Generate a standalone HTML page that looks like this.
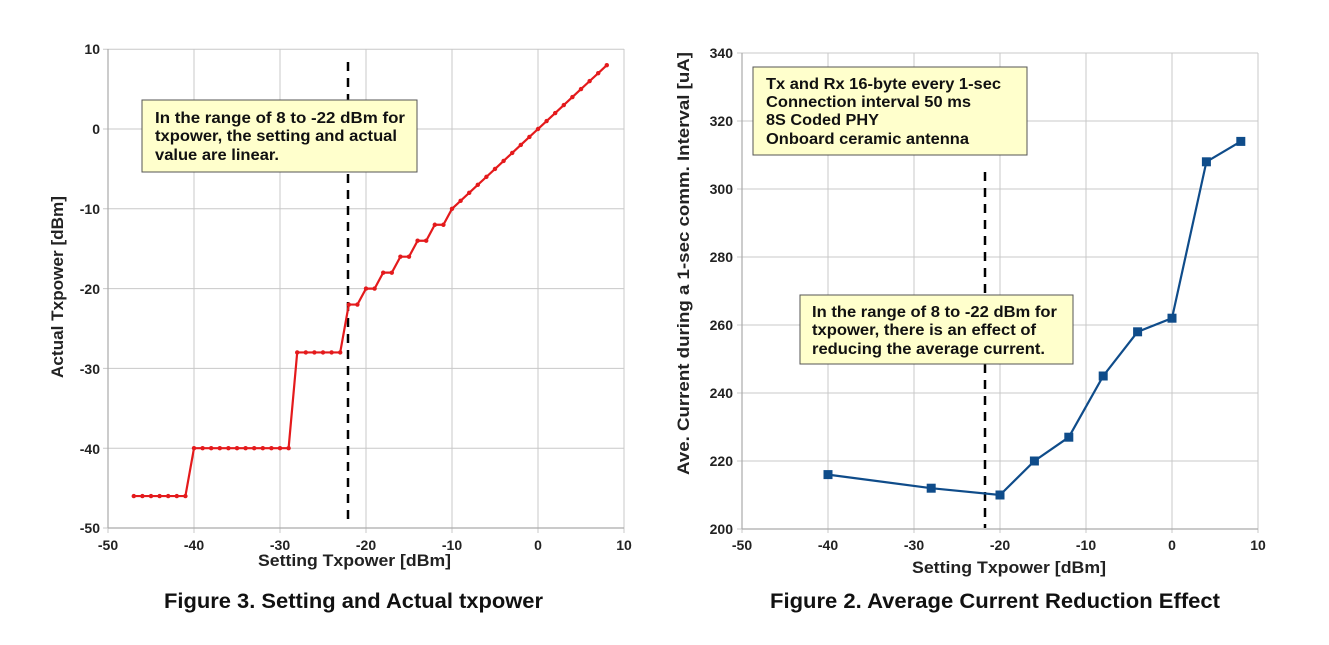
<!DOCTYPE html>
<html><head><meta charset="utf-8"><style>
body{margin:0;background:#fff;}
svg{display:block;font-family:"Liberation Sans",Arial,sans-serif;}
.t{font-size:14px;font-weight:bold;fill:#222;}
.ax{font-size:17px;font-weight:bold;fill:#222;}
.cap{font-size:21px;font-weight:bold;fill:#111;}
.bx{font-size:16px;font-weight:bold;fill:#111;}
</style></head><body>
<svg id="s" width="1329" height="645" xmlns="http://www.w3.org/2000/svg">
<g id="g1"></g>
<g class="t" text-anchor="end">
<text x="100" y="54">10</text><text x="100" y="134">0</text><text x="100" y="214">-10</text>
<text x="100" y="294">-20</text><text x="100" y="374">-30</text><text x="100" y="454">-40</text><text x="100" y="533">-50</text>
</g>
<g class="t" text-anchor="middle">
<text x="108" y="550">-50</text><text x="194" y="550">-40</text><text x="280" y="550">-30</text><text x="366" y="550">-20</text>
<text x="452" y="550">-10</text><text x="538" y="550">0</text><text x="624" y="550">10</text>
</g>
<text class="ax" x="258" y="566" textLength="193" lengthAdjust="spacingAndGlyphs">Setting Txpower [dBm]</text>
<text class="ax" transform="translate(63,378) rotate(-90)" textLength="182" lengthAdjust="spacingAndGlyphs">Actual Txpower [dBm]</text>
<rect x="142" y="100" width="275" height="72" fill="#ffffcc" stroke="#555" stroke-width="1"/>
<g class="bx"><text x="155" y="123" textLength="250" lengthAdjust="spacingAndGlyphs">In the range of  8 to -22 dBm for</text><text x="155" y="141" textLength="242" lengthAdjust="spacingAndGlyphs">txpower, the setting and actual</text><text x="155" y="160" textLength="124" lengthAdjust="spacingAndGlyphs">value are linear.</text></g>
<g class="t" text-anchor="end">
<text x="733" y="58">340</text><text x="733" y="126">320</text><text x="733" y="194">300</text><text x="733" y="262">280</text>
<text x="733" y="330">260</text><text x="733" y="398">240</text><text x="733" y="466">220</text><text x="733" y="534">200</text>
</g>
<g class="t" text-anchor="middle">
<text x="742" y="550">-50</text><text x="828" y="550">-40</text><text x="914" y="550">-30</text><text x="1000" y="550">-20</text>
<text x="1086" y="550">-10</text><text x="1172" y="550">0</text><text x="1258" y="550">10</text>
</g>
<text class="ax" x="912" y="573" textLength="194" lengthAdjust="spacingAndGlyphs">Setting Txpower [dBm]</text>
<text class="ax" transform="translate(689,475) rotate(-90)" textLength="423" lengthAdjust="spacingAndGlyphs">Ave. Current during a 1-sec comm. Interval [uA]</text>
<rect x="753" y="67" width="274" height="88" fill="#ffffcc" stroke="#555" stroke-width="1"/>
<g class="bx"><text x="766" y="89" textLength="235" lengthAdjust="spacingAndGlyphs">Tx and Rx 16-byte every 1-sec</text><text x="766" y="107" textLength="205" lengthAdjust="spacingAndGlyphs">Connection interval 50 ms</text><text x="766" y="125" textLength="113" lengthAdjust="spacingAndGlyphs">8S Coded PHY</text><text x="766" y="144" textLength="203" lengthAdjust="spacingAndGlyphs">Onboard ceramic antenna</text></g>
<rect x="800" y="295" width="273" height="69" fill="#ffffcc" stroke="#555" stroke-width="1"/>
<g class="bx"><text x="812" y="317" textLength="245" lengthAdjust="spacingAndGlyphs">In the range of 8 to -22 dBm for</text><text x="812" y="335" textLength="224" lengthAdjust="spacingAndGlyphs">txpower, there is an effect of</text><text x="812" y="354" textLength="233" lengthAdjust="spacingAndGlyphs">reducing the average current.</text></g>
<text class="cap" x="164" y="608" textLength="379" lengthAdjust="spacingAndGlyphs">Figure 3. Setting and Actual txpower</text>
<text class="cap" x="770" y="608" textLength="450" lengthAdjust="spacingAndGlyphs">Figure 2. Average Current Reduction Effect</text>
</svg>
<script>
var g=document.getElementById('g1'),h='';
function L(x1,y1,x2,y2,c,w,d){h+='<line x1="'+x1+'" y1="'+y1+'" x2="'+x2+'" y2="'+y2+'" stroke="'+c+'" stroke-width="'+w+'"'+(d?' stroke-dasharray="'+d+'"':'')+'/>';}
var X1=v=>108+(v+50)*8.6,Y1=v=>129-v*7.98;
for(var v=-50;v<=10;v+=10){L(X1(v),49,X1(v),533,'#c8c8c8',1);L(103,Y1(v),624,Y1(v),'#c8c8c8',1);}
L(108,49,108,528,'#aaa',1.2);L(108,528,624,528,'#aaa',1.2);
L(348,62,348,525,'#000',2.5,'9,7');
var map={'-20':-20,'-19':-20,'-18':-18,'-17':-18,'-16':-16,'-15':-16,'-14':-14,'-13':-14,'-12':-12,'-11':-12};
var pts=[];for(var s=-47;s<=8;s++){var a;if(map[s]!==undefined)a=map[s];else if(s<=-41)a=-46;else if(s<=-29)a=-40;else if(s<=-23)a=-28;else if(s<=-21)a=-22;else a=s;pts.push([X1(s),Y1(a)]);}
h+='<polyline fill="none" stroke="#e41a1c" stroke-width="2.2" points="'+pts.map(p=>p.join(',')).join(' ')+'"/>';
pts.forEach(p=>h+='<circle cx="'+p[0]+'" cy="'+p[1]+'" r="2.2" fill="#e41a1c"/>');
var X2=v=>742+(v+50)*8.6,Y2=v=>53+(340-v)*3.4;
for(var v=-50;v<=10;v+=10)L(X2(v),53,X2(v),533,'#c8c8c8',1);
for(var v=200;v<=340;v+=20)L(737,Y2(v),1258,Y2(v),'#c8c8c8',1);
L(742,53,742,529,'#aaa',1.2);L(742,529,1258,529,'#aaa',1.2);
L(985,172,985,528,'#000',2.5,'9,7');
var d=[[-40,216],[-28,212],[-20,210],[-16,220],[-12,227],[-8,245],[-4,258],[0,262],[4,308],[8,314]].map(p=>[X2(p[0]),Y2(p[1])]);
h+='<polyline fill="none" stroke="#0f4c8a" stroke-width="2.2" points="'+d.map(p=>p.join(',')).join(' ')+'"/>';
d.forEach(p=>h+='<rect x="'+(p[0]-4.5)+'" y="'+(p[1]-4.5)+'" width="9" height="9" fill="#0f4c8a"/>');
g.innerHTML=h;
</script>
</body></html>
